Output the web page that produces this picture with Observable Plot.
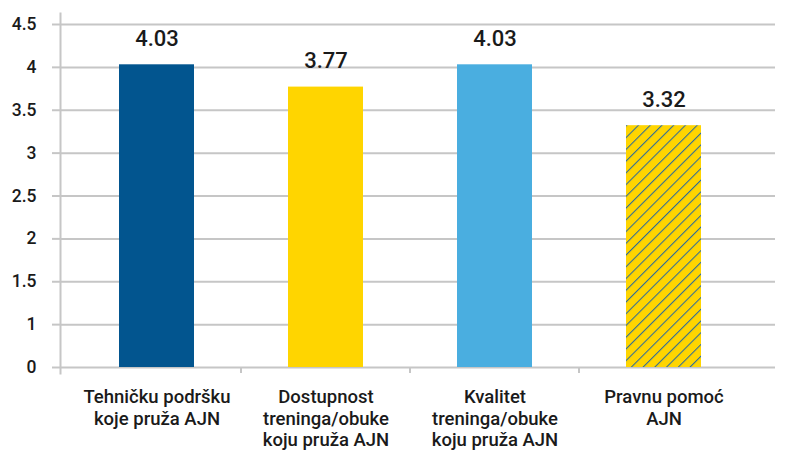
<!DOCTYPE html>
<html>
<head>
<meta charset="utf-8">
<script src="https://cdn.jsdelivr.net/npm/d3@7"></script>
<script src="https://cdn.jsdelivr.net/npm/@observablehq/plot@0.6"></script>
<style>
  html, body { margin: 0; padding: 0; background: #fff; }
  #chart { width: 785px; height: 450px; }
</style>
</head>
<body>
<div id="chart"></div>
<script>
const categories = [
  "Tehničku podršku\nkoje pruža AJN",
  "Dostupnost\ntreninga/obuke\nkoju pruža AJN",
  "Kvalitet\ntreninga/obuke\nkoju pruža AJN",
  "Pravnu pomoć\nAJN"
];
const values = [4.03, 3.77, 4.03, 3.32];
const valueLabels = ["4.03", "3.77", "4.03", "3.32"];
const barColors = ["#02558f", "#ffd500", "#4aaee0", "url(#hatch)"];
const yTickValues = [0.5, 1, 1.5, 2, 2.5, 3, 3.5, 4, 4.5];
const yTickLabels = ["0", "1", "1.5", "2", "2.5", "3", "3.5", "4", "4.5"];
const yBaseline = 0.5;

const data = categories.map((c, i) => ({category: c, value: values[i], label: valueLabels[i], color: barColors[i]}));

const gridColor = "#c6c6c6";
const textColor = "#1a1a1a";

const chart = Plot.plot({
  width: 785,
  height: 450,
  marginTop: 24,
  marginBottom: 83,
  marginLeft: 60,
  marginRight: 10,
  style: {fontFamily: "Roboto, sans-serif", background: "#fff"},
  x: {domain: categories, paddingInner: 0.5588, paddingOuter: 0.3824, align: 0.4385, label: null},
  y: {domain: [0.5, 4.5], label: null},
  color: {type: "identity"},
  marks: [
    Plot.gridY(yTickValues, {stroke: gridColor, strokeOpacity: 1, strokeWidth: 2}),
    Plot.axisY(yTickValues, {
      tickSize: 8, tickPadding: 16, stroke: gridColor, strokeWidth: 2,
      fontSize: 17.5, fontWeight: 500, fill: textColor,
      tickFormat: d => yTickLabels[yTickValues.indexOf(d)], label: null
    }),
    Plot.frame({anchor: "left", stroke: gridColor, strokeWidth: 2, insetTop: -11, insetBottom: -6}),
    Plot.ruleX(categories.slice(1), {x: d => d, y1: yBaseline, y2: yBaseline, insetBottom: -6, dx: -85, stroke: gridColor, strokeWidth: 2}),
    Plot.barY(data, {x: "category", y1: yBaseline, y2: "value", fill: "color"}),
    Plot.axisX({tickSize: 0, tickPadding: 21, fontSize: 18.5, fontWeight: 500, fill: textColor, lineHeight: 1.14, label: null}),
    Plot.text(data, {x: "category", y: "value", text: "label", dy: -26, fontSize: 22, fontWeight: 500, fill: textColor})
  ]
});

// hatch pattern for the last bar
const ns = "http://www.w3.org/2000/svg";
const defs = document.createElementNS(ns, "defs");
const pat = document.createElementNS(ns, "pattern");
pat.setAttribute("id", "hatch");
pat.setAttribute("patternUnits", "userSpaceOnUse");
pat.setAttribute("width", "8.3");
pat.setAttribute("height", "8.3");
pat.setAttribute("patternTransform", "rotate(45)");
const bg = document.createElementNS(ns, "rect");
bg.setAttribute("width", "8.3"); bg.setAttribute("height", "8.3"); bg.setAttribute("fill", "#ffd500");
const ln = document.createElementNS(ns, "line");
ln.setAttribute("x1", "0.5"); ln.setAttribute("y1", "0"); ln.setAttribute("x2", "0.5"); ln.setAttribute("y2", "8.3");
ln.setAttribute("stroke", "#2a6a9c"); ln.setAttribute("stroke-width", "1.1");
pat.appendChild(bg); pat.appendChild(ln); defs.appendChild(pat);
chart.insertBefore(defs, chart.firstChild);

document.getElementById("chart").appendChild(chart);
</script>
</body>
</html>
